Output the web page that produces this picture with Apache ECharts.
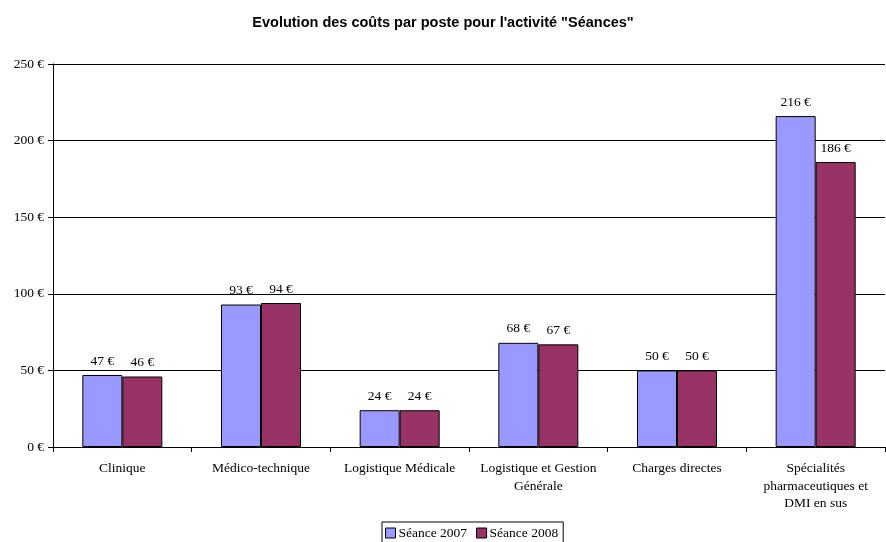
<!DOCTYPE html>
<html><head><meta charset="utf-8">
<script src="https://cdn.jsdelivr.net/npm/echarts@6/dist/echarts.min.js"></script>
<style>html,body{margin:0;padding:0;background:#fff}#c{width:886px;height:542px}</style>
</head><body><div id="c"></div>
<script>
const categories = ["Clinique", "Médico-technique", "Logistique Médicale", "Logistique et Gestion\nGénérale", "Charges directes", "Spécialités\npharmaceutiques et\nDMI en sus"];
const seance2007 = [47, 93, 24, 68, 50, 216];
const seance2008 = [46, 94, 24, 67, 50, 186];
const yTicks = [0, 50, 100, 150, 200, 250];

const serif = '"Liberation Serif", "DejaVu Serif", serif';
const chart = echarts.init(document.getElementById('c'), null, {renderer: 'canvas'});
const lbl = {show: true, position: 'top', distance: 7, fontFamily: serif, fontSize: 13.5, color: '#000', formatter: p => p.value + ' €'};
chart.setOption({
  animation: false,
  title: {text: 'Evolution des coûts par poste pour l\'activité "Séances"', left: 'center', top: 10,
    textStyle: {fontFamily: '"Liberation Sans", Arial, sans-serif', fontSize: 14.5, fontWeight: 'bold', color: '#000'}},
  legend: {top: 522, left: 382, icon: 'rect', itemWidth: 10, itemHeight: 10, itemGap: 9, padding: [4, 5, 8, 3],
    borderColor: '#000', borderWidth: 1, borderRadius: 0,
    textStyle: {fontFamily: serif, fontSize: 13.5, color: '#000', padding: [0, 0, 0, -2]},
    data: [{name: 'Séance 2007', itemStyle: {borderColor: '#000', borderWidth: 1}}, {name: 'Séance 2008', itemStyle: {borderColor: '#000', borderWidth: 1}}]},
  grid: {left: 53, right: 1, top: 64, bottom: 95, containLabel: false},
  xAxis: {type: 'category', data: categories,
    axisLine: {lineStyle: {color: '#000', width: 1}},
    axisTick: {show: true, length: 5, lineStyle: {color: '#000'}},
    axisLabel: {fontFamily: serif, fontSize: 13.5, color: '#000', margin: 13, lineHeight: 17.5, interval: 0}},
  yAxis: {type: 'value', min: yTicks[0], max: yTicks[yTicks.length - 1], interval: 50,
    axisLine: {show: true, lineStyle: {color: '#000', width: 1}},
    axisTick: {show: true, length: 5, lineStyle: {color: '#000'}},
    splitLine: {lineStyle: {color: '#000', width: 1}},
    axisLabel: {fontFamily: serif, fontSize: 13.5, color: '#000', margin: 9, formatter: v => v + ' €'}},
  series: [
    {name: 'Séance 2007', type: 'bar', data: seance2007, barWidth: 40, barGap: '0%',
      itemStyle: {color: '#9999FF', borderColor: '#000', borderWidth: 1}, label: lbl},
    {name: 'Séance 2008', type: 'bar', data: seance2008, barWidth: 40, barGap: '0%',
      itemStyle: {color: '#993366', borderColor: '#000', borderWidth: 1}, label: lbl}
  ]
});
</script></body></html>
